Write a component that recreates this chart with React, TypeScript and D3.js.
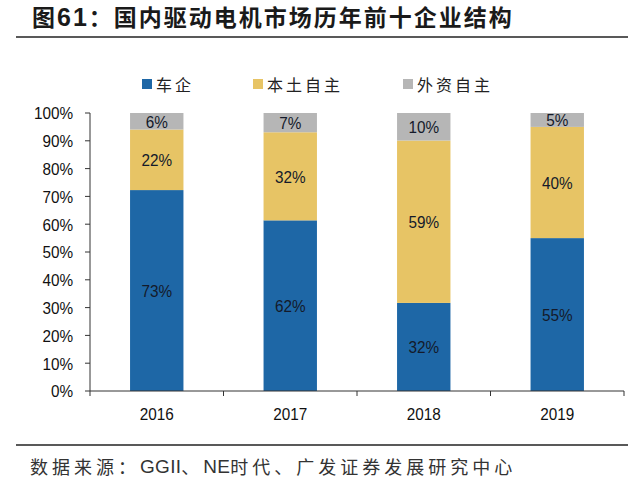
import React from "react";
import * as d3 from "d3";

const years = ["2016", "2017", "2018", "2019"];
const seriesNames = ["车企", "本土自主", "外资自主"];
const cheqi = [73, 62, 32, 55];
const bentu = [22, 32, 59, 40];
const waizi = [6, 7, 10, 5];
const colors = ["#1e67a6", "#e7c465", "#b6b6b6"];
const yTicks = [0, 10, 20, 30, 40, 50, 60, 70, 80, 90, 100];

const W = 640;
const H = 478;
const m = { left: 90, right: 624, top: 113, bottom: 391 };

const font = "'Liberation Sans', Arial, sans-serif";
const cjk = "'Noto Sans CJK SC', sans-serif";

function NText({ x, y, anchor, size, children, fill = "#111" }: any) {
  return (
    <text
      transform={`translate(${x},${y}) scale(0.9,1)`}
      textAnchor={anchor}
      dominantBaseline="central"
      fontFamily={font}
      fontSize={size}
      fill={fill}
    >
      {children}
    </text>
  );
}

export default function App() {
  const x = d3.scaleBand<string>().domain(years).range([m.left, m.right]).paddingInner(0.6).paddingOuter(0.3);
  const y = d3.scaleLinear().domain([0, 100]).range([m.bottom, m.top]);
  const band = d3.scaleBand<string>().domain(years).range([m.left, m.right]);

  const rows = years.map((yr, i) => {
    const vals = [cheqi[i], bentu[i], waizi[i]];
    const total = d3.sum(vals);
    return { year: yr, vals, total };
  });

  const table = rows.map((r) => ({ year: r.year, a: (r.vals[0] / r.total) * 100, b: (r.vals[1] / r.total) * 100, c: (r.vals[2] / r.total) * 100 }));
  const stack = d3.stack<any>().keys(["a", "b", "c"])(table);

  const legendX = [142, 253, 403];

  return (
    <svg width={W} height={H} style={{ position: "absolute", left: 0, top: 0, background: "#fff" }}>
      <text x={32} y={26} fontFamily={cjk} fontWeight="bold" fontSize={23} letterSpacing={2} fill="#1a1a1a">
        图<tspan fontFamily={font} fontSize={25}>61</tspan>：国内驱动电机市场历年前十企业结构
      </text>
      <line x1={16} x2={628} y1={37} y2={37} stroke="#222" strokeWidth={1.5} />

      {seriesNames.map((s, i) => (
        <g key={s}>
          <rect x={legendX[i]} y={79} width={10} height={10} fill={colors[i]} />
          <text x={legendX[i] + 14} y={84} dominantBaseline="central" fontFamily={cjk} fontSize={16} letterSpacing={3} fill="#222">
            {s}
          </text>
        </g>
      ))}

      {stack.map((layer, si) =>
        layer.map((d, i) => {
          const yr = years[i];
          const x0 = x(yr)!;
          const y0 = y(d[1]);
          const y1 = y(d[0]);
          const v = rows[i].vals[si];
          return (
            <g key={si + "-" + yr}>
              <rect x={x0} y={y0} width={x.bandwidth()} height={y1 - y0} fill={colors[si]} />
              <NText x={x0 + x.bandwidth() / 2} y={(y0 + y1) / 2} anchor="middle" size={17} fill="#141a2a">
                {v}%
              </NText>
            </g>
          );
        })
      )}

      <line x1={m.left} x2={m.left} y1={m.top} y2={m.bottom} stroke="#333" strokeWidth={1} />
      {yTicks.map((t) => (
        <g key={t}>
          <line x1={m.left - 5} x2={m.left} y1={y(t)} y2={y(t)} stroke="#333" />
          <NText x={m.left - 17} y={y(t)} anchor="end" size={17}>
            {t}%
          </NText>
        </g>
      ))}
      <line x1={m.left} x2={m.right} y1={m.bottom} y2={m.bottom} stroke="#333" strokeWidth={1} />
      {years.map((yr) => (
        <line key={"t" + yr} x1={band(yr)! + band.bandwidth()} x2={band(yr)! + band.bandwidth()} y1={m.bottom} y2={m.bottom + 5} stroke="#333" />
      ))}
      <line x1={m.left} x2={m.left} y1={m.bottom} y2={m.bottom + 5} stroke="#333" />
      {years.map((yr) => (
        <NText key={"l" + yr} x={band(yr)! + band.bandwidth() / 2} y={414} anchor="middle" size={17}>
          {yr}
        </NText>
      ))}

      <line x1={16} x2={628} y1={445} y2={445} stroke="#222" strokeWidth={1.5} />
      <text x={30} y={466} dominantBaseline="central" fontFamily={cjk} fontSize={18} letterSpacing={4} fill="#333">
        数据来源：<tspan fontFamily={font} fontSize={19} letterSpacing={0.3}>GGII</tspan>、<tspan fontFamily={font} fontSize={19} letterSpacing={0.3}>NE</tspan>时代、广发证券发展研究中心
      </text>
    </svg>
  );
}
